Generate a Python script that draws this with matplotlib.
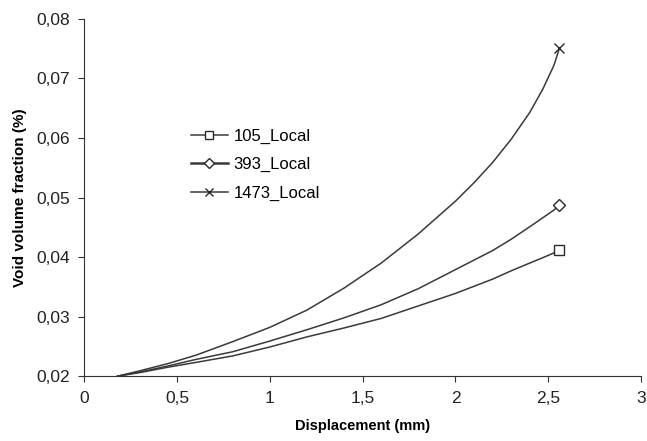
import matplotlib.pyplot as plt
from matplotlib.ticker import FuncFormatter, MultipleLocator

plt.rcParams["font.family"] = ["Liberation Sans", "DejaVu Sans"]

# displacement (mm) and void volume fraction
disp = [0.18, 0.3, 0.45, 0.6, 0.8, 1.0, 1.2, 1.4, 1.6, 1.8,
        2.0, 2.1, 2.2, 2.3, 2.4, 2.47, 2.53, 2.56]
vvf_105 = [0.0200, 0.0206, 0.0215, 0.0223, 0.0234, 0.0249, 0.0266, 0.0281, 0.0297, 0.0318,
           0.0339, 0.0351, 0.0363, 0.0377, 0.0390, 0.0399, 0.0407, 0.0412]
vvf_393 = [0.0200, 0.0207, 0.0217, 0.0228, 0.0241, 0.0259, 0.0278, 0.0298, 0.0320, 0.0347,
           0.0379, 0.0395, 0.0411, 0.0430, 0.0451, 0.0466, 0.0479, 0.0487]
vvf_1473 = [0.0200, 0.0209, 0.0221, 0.0235, 0.0258, 0.0282, 0.0311, 0.0348, 0.0390, 0.0439,
            0.0494, 0.0525, 0.0559, 0.0598, 0.0643, 0.0682, 0.0722, 0.0751]

series = [
    ("105_Local", vvf_105, "s", 7),
    ("393_Local", vvf_393, "D", 6),
    ("1473_Local", vvf_1473, "x", 7),
]

fig = plt.figure(figsize=(6.47, 4.41), dpi=100)
ax = fig.add_axes([0.13, 0.147, 0.861, 0.81])

for label, vals, mk, ms in series:
    ax.plot(disp, vals, color="#3a3a3a", linewidth=1.1, marker=mk, markevery=[len(disp) - 1],
            markersize=ms, markerfacecolor="white", markeredgecolor="#2a2a2a",
            markeredgewidth=1.0, label=label)

ax.set_xlim(0, 3)
ax.set_ylim(0.02, 0.08)
ax.xaxis.set_major_locator(MultipleLocator(0.5))
ax.yaxis.set_major_locator(MultipleLocator(0.01))
ax.xaxis.set_major_formatter(FuncFormatter(lambda v, p: f"{v:g}".replace(".", ",")))
ax.yaxis.set_major_formatter(FuncFormatter(lambda v, p: f"{v:.2f}".replace(".", ",")))

for side in ("top", "right"):
    ax.spines[side].set_visible(False)
for side in ("left", "bottom"):
    ax.spines[side].set_color("#333333")
ax.tick_params(direction="out", length=4, color="#333333", labelsize=12.5, labelcolor="#222222")
ax.tick_params(axis="x", pad=7)
ax.tick_params(axis="y", pad=6)

ax.set_xlabel("Displacement (mm)", fontsize=10.5, fontweight="bold", labelpad=9)
ax.set_ylabel("Void volume fraction (%)", fontsize=11, fontweight="bold", labelpad=7)

leg = ax.legend(loc="upper left", bbox_to_anchor=(0.165, 0.735), frameon=False, fontsize=12,
                handlelength=2.2, handletextpad=0.35, labelspacing=0.8, markerscale=0.85)
leg.get_lines()[1].set_linewidth(1.8)

fig.savefig("out.png", dpi=100)
